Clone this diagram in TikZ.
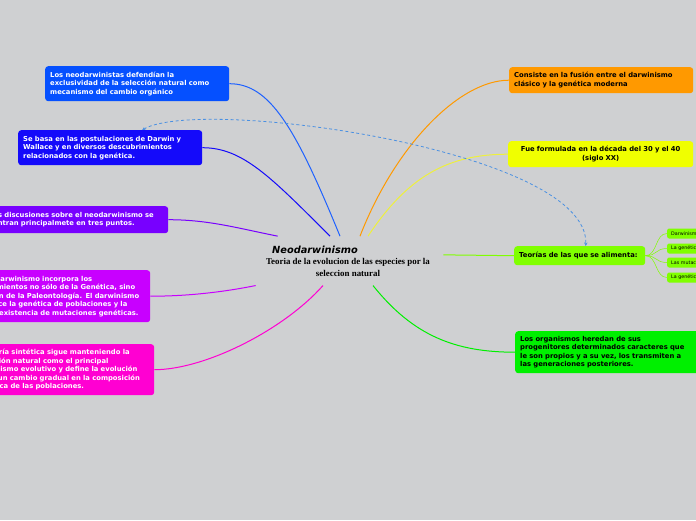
\documentclass[tikz,border=0pt]{standalone}
\usepackage{fontspec}
\setmainfont{DejaVu Sans}
\newfontfamily\subfont{Liberation Serif}
\usepackage{xcolor}
\usepackage{tikz}
\usetikzlibrary{arrows.meta,positioning,fit,calc}
\definecolor{bg}{RGB}{207,208,210}
\definecolor{cA}{RGB}{5,80,255}
\definecolor{cB}{RGB}{20,10,250}
\definecolor{cC}{RGB}{120,0,255}
\definecolor{cD}{RGB}{200,0,255}
\definecolor{cE}{RGB}{255,0,210}
\definecolor{cF}{RGB}{255,153,0}
\definecolor{cG}{RGB}{240,255,0}
\definecolor{cH}{RGB}{128,255,0}
\definecolor{cI}{RGB}{0,240,0}
\definecolor{dashblue}{RGB}{74,144,226}
\definecolor{ylink}{RGB}{238,240,60}
\tikzset{
  mbox/.style 2 args={rounded corners=3pt,anchor=north west,align=left,text width=#1,minimum height=#2,inner xsep=5pt,inner ysep=0pt,font=\bfseries\fontsize{6.8}{8.5}\selectfont},
  leaf/.style={fill=cH,rounded corners=2pt,anchor=west,minimum height=10pt,inner xsep=4pt,inner ysep=0pt,text width=90pt,align=left,font=\fontsize{4.8}{6}\selectfont},
  title/.style={inner sep=0pt,font=\bfseries\itshape\fontsize{9.8}{11}\selectfont},
  subtitle/.style={inner sep=0pt,align=center,font=\subfont\bfseries\fontsize{8.9}{12}\selectfont},
  link/.style={line width=1pt},
  thin/.style={line width=0.5pt,cH},
  dlink/.style={dashblue,line width=0.8pt,dash pattern=on 3pt off 2.5pt,{Stealth[length=3pt,width=3pt]}-{Stealth[length=3.5pt,width=3.5pt]}},
}
\begin{document}
\begin{tikzpicture}[x=1pt,y=-1pt]
\useasboundingbox (0,0) rectangle (696,520);
\fill[bg] (0,0) rectangle (696,520);
\clip (0,0) rectangle (696,520);
% centre
\node[title,anchor=base west] (title) at (272,253) {Neodarwinismo};
\node[subtitle] (sub) at (348,267) {Teoria de la evolucion de las especies por la\\seleccion natural};
\node[fit=(title)(sub),inner xsep=13pt,inner ysep=9pt] (root) {};
% left
\node[mbox={174pt}{35pt},fill=cA,text=white] (defend) at (45,66) {Los neodarwinistas defendían la\\exclusividad de la selección natural como\\mecanismo del cambio orgánico};
\node[mbox={174pt}{35pt},fill=cB,text=white] (basa) at (18,130) {Se basa en las postulaciones de Darwin y\\Wallace y en diversos descubrimientos\\relacionados con la genética.};
\node[mbox={174pt}{27pt},fill=cC,text=white] (discu) at (-16,206) {Las discusiones sobre el neodarwinismo se\\centran principalmete en tres puntos.};
\node[mbox={173pt}{52pt},fill=cD,text=white] (incorp) at (-33,270) {El neodarwinismo incorpora los\\conocimientos no sólo de la Genética, sino\\también de la Paleontología. El darwinismo\\reconoce la genética de poblaciones y la\\propia existencia de mutaciones genéticas.};
\node[mbox={174pt}{51pt},fill=cE,text=white] (sintet) at (-30,344) {La teoría sintética sigue manteniendo la\\selección natural como el principal\\mecanismo evolutivo y define la evolución\\como un cambio gradual en la composición\\genética de las poblaciones.};
% right
\node[mbox={174pt}{26pt},fill=cF] (fusion) at (509,67) {Consiste en la fusión entre el darwinismo\\clásico y la genética moderna};
\node[mbox={175pt}{26pt},fill=cG,align=center] (formul) at (508,141) {Fue formulada en la década del 30 y el 40\\(siglo XX)};
\node[mbox={121pt}{19pt},fill=cH] (teor) at (514,246) {Teorías de las que se alimenta:};
\node[mbox={175pt}{42pt},fill=cI] (hered) at (515,331) {Los organismos heredan de sus\\progenitores determinados caracteres que\\le son propios y a su vez, los transmiten a\\las generaciones posteriores.};
\node[leaf] (t1) at (667,233.5) {Darwinismo};
\node[leaf] (t2) at (667,248.5) {La genética mendeliana};
\node[leaf] (t3) at (667,262.5) {Las mutaciones};
\node[leaf] (t4) at (667,277.5) {La genética de poblaciones};
% connectors
\draw[link,cA!90!white] ([xshift=-8pt]root.north) .. controls +(-45,-110) and +(40,0) .. (defend.east);
\draw[link,cB] ([xshift=-18pt]root.north) .. controls +(-60,-60) and +(40,0) .. (basa.east);
\draw[link,cC] ([xshift=25pt]root.north west) .. controls +(-40,-8) and +(40,0) .. (discu.east);
\draw[link,cD] ([xshift=3pt]root.south west) .. controls +(-30,6) and +(40,0) .. (incorp.east);
\draw[link,cE] ([xshift=-25pt]root.south) .. controls +(-40,45) and +(50,0) .. (sintet.east);
\draw[link,cF] ([xshift=12pt]root.north) .. controls +(35,-90) and +(-50,0) .. (fusion.west);
\draw[link,ylink] ([xshift=20pt]root.north) .. controls +(40,-60) and +(-60,0) .. (formul.west);
\draw[link,cH] ([yshift=6pt]root.east) -- (teor.west);
\draw[link,cI] ([xshift=25pt]root.south) .. controls +(40,50) and +(-60,0) .. (hered.west);
\foreach \t in {t1,t2,t3,t4}
  \draw[thin] (teor.east) .. controls +(12,0) and +(-12,0) .. (\t.west);
\draw[dlink] ([xshift=32pt]basa.north) .. controls +(58,-34) and +(4,-96) .. ([xshift=6pt]teor.north);
\end{tikzpicture}
\end{document}
